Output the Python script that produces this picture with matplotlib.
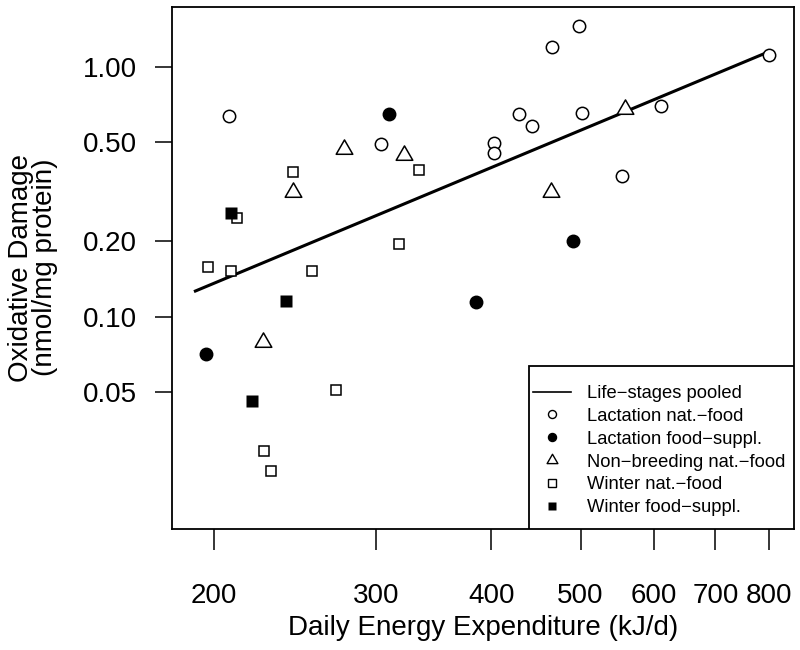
import numpy as np
import matplotlib.pyplot as plt
from matplotlib.path import Path
from matplotlib.lines import Line2D
from matplotlib.patches import Rectangle
from matplotlib.ticker import FixedLocator, FixedFormatter, NullLocator

plt.rcParams['font.family'] = ['Liberation Sans', 'DejaVu Sans']

# Lactation, natural food
lact_nat_x = [207.6, 304, 403, 403, 428.9, 442.5, 465.4, 497.5, 501.6, 554.4, 611.3, 800.4]
lact_nat_y = [0.637, 0.491, 0.494, 0.450, 0.649, 0.579, 1.202, 1.459, 0.653, 0.364, 0.697, 1.11]

# Lactation, food supplemented
lact_sup_x = [196, 309.8, 384.6, 491]
lact_sup_y = [0.071, 0.645, 0.115, 0.200]

# Non-breeding, natural food
nonbr_x = [226, 243.9, 276.6, 321.8, 464.2, 558.2]
nonbr_y = [0.0789, 0.315, 0.470, 0.442, 0.316, 0.680]

# Winter, natural food
win_nat_x = [197, 209.1, 212, 226.8, 231, 243.6, 255.4, 271.6, 317.9, 333.6]
win_nat_y = [0.158, 0.153, 0.248, 0.0291, 0.0241, 0.380, 0.153, 0.051, 0.196, 0.387]

# Winter, food supplemented
win_sup_x = [209.1, 220.2, 239.6]
win_sup_y = [0.259, 0.046, 0.116]

# pooled regression line (end points)
fit_x = [190.4, 800]
fit_y = [0.126, 1.148]

x_ticks = [200, 300, 400, 500, 600, 700, 800]
y_ticks = [0.05, 0.10, 0.20, 0.50, 1.00]
y_tick_labels = ['0.05', '0.10', '0.20', '0.50', '1.00']

labels = ['Life\u2212stages pooled', 'Lactation nat.\u2212food', 'Lactation food\u2212suppl.',
          'Non\u2212breeding nat.\u2212food', 'Winter nat.\u2212food', 'Winter food\u2212suppl.']

# R style triangle (pch 2), centred on its centroid
tri = Path([(0, 1.5551), (1.3468, -0.7776), (-1.3468, -0.7776), (0, 1.5551)],
           [Path.MOVETO, Path.LINETO, Path.LINETO, Path.CLOSEPOLY])

fig = plt.figure(figsize=(8, 6.5), dpi=100)
ax = fig.add_axes([171.7 / 800, 1 - 528.5 / 650, (793.75 - 171.7) / 800, (528.5 - 6.7) / 650])
ax.set_xscale('log')
ax.set_yscale('log')

ax.plot(fit_x, fit_y, color='black', lw=2.2, solid_capstyle='butt')
ax.plot(lact_nat_x, lact_nat_y, 'o', ls='none', ms=8.9, mfc='white', mec='black', mew=1.1)
ax.plot(lact_sup_x, lact_sup_y, 'o', ls='none', ms=8.9, mfc='black', mec='black', mew=1.1)
ax.plot(nonbr_x, nonbr_y, marker=tri, ls='none', ms=13.8, mfc='white', mec='black', mew=1.1)
ax.plot(win_nat_x, win_nat_y, 's', ls='none', ms=7.9, mfc='white', mec='black', mew=1.1)
ax.plot(win_sup_x, win_sup_y, 's', ls='none', ms=8.9, mfc='black', mec='none')

ax.set_xlim(180.1, 851.4)
ax.set_ylim(0.01422, 1.738)

ax.xaxis.set_major_locator(FixedLocator(x_ticks))
ax.xaxis.set_major_formatter(FixedFormatter([str(v) for v in x_ticks]))
ax.xaxis.set_minor_locator(NullLocator())
ax.yaxis.set_major_locator(FixedLocator(y_ticks))
ax.yaxis.set_major_formatter(FixedFormatter(y_tick_labels))
ax.yaxis.set_minor_locator(NullLocator())
ax.tick_params(axis='x', length=15, width=1.1, pad=24, labelsize=20)
ax.tick_params(axis='y', length=12, width=1.1, pad=13, labelsize=20)
for s in ax.spines.values():
    s.set_linewidth(1.3)

fig.text(482.7 / 800, 1 - 628 / 650, 'Daily Energy Expenditure (kJ/d)', ha='center', va='center', fontsize=20)
fig.text(33 / 800, 1 - 267.6 / 650, 'Oxidative Damage\n(nmol/mg protein)', ha='center', va='center',
         rotation=90, fontsize=20, linespacing=0.88, multialignment='center')

# legend box
ax.add_patch(Rectangle((0.5749, 0), 1 - 0.5749, 0.3114, transform=ax.transAxes,
                       facecolor='white', edgecolor='black', lw=1.3, zorder=3))
sc = 0.65
handles = [
    Line2D([], [], color='black', lw=1.2),
    Line2D([], [], marker='o', ls='none', ms=8.9 * sc, mfc='white', mec='black', mew=1.0),
    Line2D([], [], marker='o', ls='none', ms=8.9 * sc, mfc='black', mec='black', mew=1.0),
    Line2D([], [], marker=tri, ls='none', ms=13.8 * sc, mfc='white', mec='black', mew=1.0),
    Line2D([], [], marker='s', ls='none', ms=7.9 * sc, mfc='white', mec='black', mew=1.0),
    Line2D([], [], marker='s', ls='none', ms=8.9 * sc, mfc='black', mec='none'),
]
leg = ax.legend(handles, labels, loc='upper left', bbox_to_anchor=(0.5808, 0.275),
                frameon=False, borderpad=0, borderaxespad=0, handlelength=2.05,
                handletextpad=0.9, labelspacing=0.32, fontsize=13.2)
leg.set_zorder(4)

fig.savefig('out.png', dpi=100)
